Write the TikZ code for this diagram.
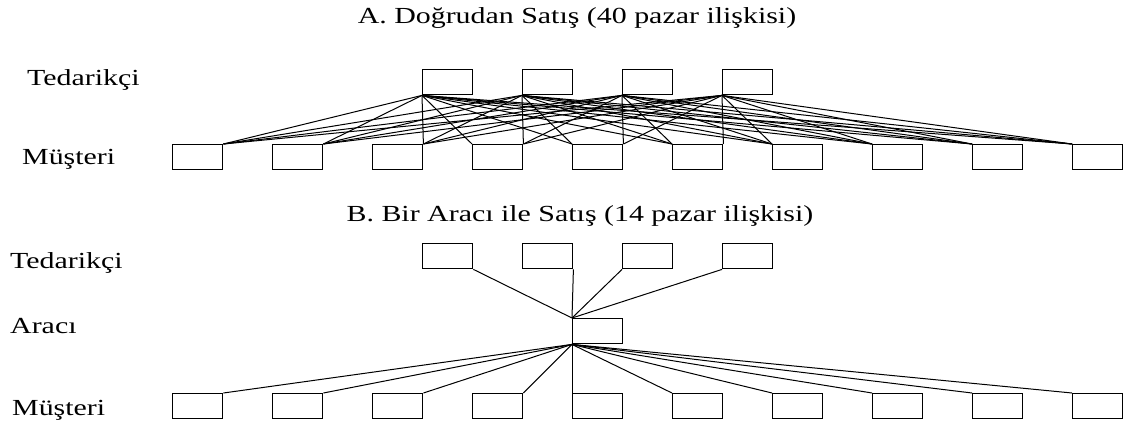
\documentclass[tikz,border=0pt]{standalone}
\usepackage{fontspec}
\setmainfont{Liberation Serif}[FakeStretch=1.3]
\begin{document}
\begin{tikzpicture}[x=1pt,y=-1pt,
  boxnode/.style={draw=black, line width=1.4pt, minimum width=50pt, minimum height=25pt, inner sep=0pt, anchor=north west},
  link/.style={draw=black, line width=1pt},
  lbl/.style={anchor=base west, inner sep=0pt, font=\fontsize{23}{23}\selectfont},
  ttl/.style={anchor=base, inner sep=0pt, font=\fontsize{23}{23}\selectfont}]
\useasboundingbox (0,0) rectangle (1126,428);
% titles
\node[ttl] (tA) at (577,24) {A. Doğrudan Satış (40 pazar ilişkisi)};
\node[ttl] (tB) at (580,221) {B. Bir Aracı ile Satış (14 pazar ilişkisi)};
% labels
\node[lbl] (lA1) at (27,85) {Tedarikçi};
\node[lbl] (lA2) at (22,164) {Müşteri};
\node[lbl] (lB1) at (10,268) {Tedarikçi};
\node[lbl] (lB2) at (10,333) {Aracı};
\node[lbl] (lB3) at (12,415) {Müşteri};
% section A boxes
\foreach \i in {1,...,4} {
  \node[boxnode] (s\i) at ({422+100*(\i-1)},69) {};
}
\foreach \j in {1,...,10} {
  \node[boxnode] (c\j) at ({172+100*(\j-1)},144) {};
}
\foreach \i in {1,...,4} {
  \foreach \j in {1,...,10} {
    \ifnum\j<\numexpr\i+3\relax
      \draw[link] (s\i.south west) -- (c\j.north east);
    \else
      \draw[link] (s\i.south west) -- (c\j.north west);
    \fi
  }
}
% section B boxes
\foreach \i in {1,...,4} {
  \node[boxnode] (bs\i) at ({422+100*(\i-1)},243) {};
}
\node[boxnode] (m) at (572,318) {};
\foreach \j in {1,...,10} {
  \node[boxnode] (bc\j) at ({172+100*(\j-1)},393) {};
}
\draw[link] (bs1.south east) -- (m.north west);
\draw[link] (bs2.south east) -- (m.north west);
\draw[link] (bs3.south west) -- (m.north west);
\draw[link] (bs4.south west) -- (m.north west);
\foreach \j in {1,...,10} {
  \ifnum\j<5
    \draw[link] (m.south west) -- (bc\j.north east);
  \else
    \draw[link] (m.south west) -- (bc\j.north west);
  \fi
}
\end{tikzpicture}
\end{document}
